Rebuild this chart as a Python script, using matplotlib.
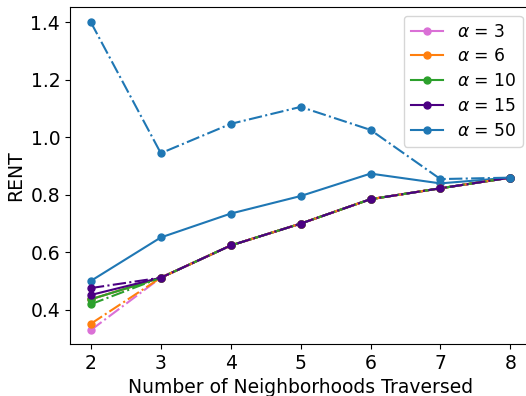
import matplotlib
matplotlib.use('Agg')
import matplotlib.pyplot as plt

neighborhoods = [2, 3, 4, 5, 6, 7, 8]
alphas = [3, 6, 10, 15, 50]
colors = ['orchid', 'tab:orange', 'tab:green', 'indigo', 'tab:blue']

# solid: one variant of RENT, dash-dot: the other
rent_solid = {
    3:  [0.437, 0.512, 0.624, 0.700, 0.785, 0.823, 0.860],
    6:  [0.437, 0.512, 0.624, 0.700, 0.785, 0.823, 0.860],
    10: [0.437, 0.512, 0.624, 0.700, 0.785, 0.823, 0.860],
    15: [0.452, 0.512, 0.624, 0.700, 0.785, 0.823, 0.860],
    50: [0.501, 0.652, 0.735, 0.796, 0.874, 0.840, 0.860],
}
rent_dashdot = {
    3:  [0.330, 0.512, 0.624, 0.700, 0.785, 0.823, 0.860],
    6:  [0.352, 0.512, 0.624, 0.700, 0.785, 0.823, 0.860],
    10: [0.420, 0.512, 0.624, 0.700, 0.785, 0.823, 0.860],
    15: [0.476, 0.512, 0.624, 0.700, 0.785, 0.823, 0.860],
    50: [1.400, 0.945, 1.047, 1.106, 1.026, 0.855, 0.860],
}

fig = plt.figure(figsize=(5.26, 3.96), dpi=100)
ax = fig.add_axes([0.133, 0.131, 0.877, 0.851])

for a, c in zip(alphas, colors):
    ax.plot(neighborhoods, rent_solid[a], '-o', color=c, markersize=5, label=f'$\\alpha$ = {a}')
for a, c in zip(alphas, colors):
    ax.plot(neighborhoods, rent_dashdot[a], '-.o', color=c, markersize=5)

ax.set_xlim(1.7, 8.3)
ax.set_ylim(0.281, 1.453)
ax.set_xticks(neighborhoods)
ax.tick_params(labelsize=13.5)
ax.set_xlabel('Number of Neighborhoods Traversed', fontsize=13.5)
ax.set_ylabel('RENT', fontsize=13.5)
ax.legend(fontsize=12.3, loc='upper right', handlelength=1.9, labelspacing=0.4)

fig.savefig('out.png', dpi=100)
